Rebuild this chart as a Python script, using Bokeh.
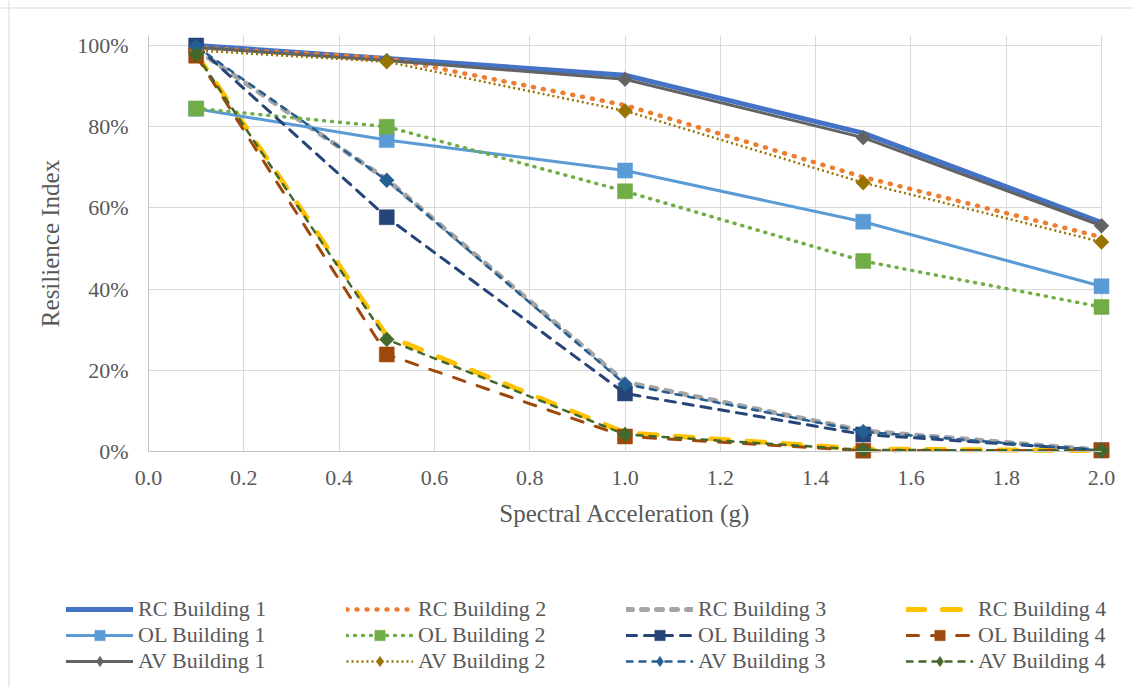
from bokeh.plotting import figure
from bokeh.models import (Legend, LegendItem, FixedTicker, NumeralTickFormatter,
                          Range1d, Span)
from bokeh.embed import file_html
from bokeh.resources import INLINE
import math

# ---------------- data ----------------
accel = [0.1, 0.5, 1.0, 1.5, 2.0]

rc_building_1 = [1.000, 0.968, 0.927, 0.784, 0.564]
rc_building_2 = [0.995, 0.969, 0.853, 0.676, 0.528]
rc_building_3 = [0.990, 0.670, 0.171, 0.051, 0.003]
rc_building_4 = [0.980, 0.285, 0.046, 0.006, 0.002]
ol_building_1 = [0.844, 0.767, 0.692, 0.566, 0.407]
ol_building_2 = [0.845, 0.800, 0.641, 0.469, 0.356]
ol_building_3 = [1.000, 0.577, 0.143, 0.042, 0.003]
ol_building_4 = [0.975, 0.239, 0.037, 0.002, 0.003]
av_building_1 = [0.995, 0.963, 0.917, 0.773, 0.556]
av_building_2 = [0.988, 0.960, 0.839, 0.662, 0.516]
av_building_3 = [0.998, 0.668, 0.166, 0.049, 0.002]
av_building_4 = [0.978, 0.276, 0.042, 0.004, 0.002]

series_names = ["RC Building 1", "RC Building 2", "RC Building 3", "RC Building 4",
                "OL Building 1", "OL Building 2", "OL Building 3", "OL Building 4",
                "AV Building 1", "AV Building 2", "AV Building 3", "AV Building 4"]
series_values = [rc_building_1, rc_building_2, rc_building_3, rc_building_4,
                 ol_building_1, ol_building_2, ol_building_3, ol_building_4,
                 av_building_1, av_building_2, av_building_3, av_building_4]

x_ticks = [round(i * 0.2, 1) for i in range(11)]
y_ticks = [round(i * 0.2, 1) for i in range(6)]
x_min, x_max = 0.0, 2.0
y_min, y_max = 0.0, 1.025

# ---------------- styles ----------------
# (color, width, dash, cap, marker)
styles = [
    ("#4472C4", 5.0, "solid", "round", None),
    ("#ED7D31", 4.5, "1 9", "round", None),
    ("#A5A5A5", 5.0, "6 9", "round", None),
    ("#FFC000", 5.0, "18 18", "round", None),
    ("#5B9BD5", 3.0, "solid", "round", "square"),
    ("#70AD47", 3.5, "1 7", "round", "square"),
    ("#264478", 3.0, "10 8", "round", "square"),
    ("#9E480E", 3.0, "12 13", "round", "square"),
    ("#636363", 3.0, "solid", "round", "diamond"),
    ("#997300", 2.5, "2 3", "butt", "diamond"),
    ("#255E91", 2.5, "6 7", "round", "diamond"),
    ("#43682B", 2.5, "6 7", "round", "diamond"),
]

TEXT = "#595959"
FONT = "Liberation Serif"

# layout of the page (pixels): plot area x 148..1101, y(0%)=451, y(100%)=45
W, H = 1133, 687
PX_L, PX_R, PY_0, PY_100 = 148, 1101, 451, 45
sx = (PX_R - PX_L) / (x_max - x_min)
sy = (PY_0 - PY_100) / 1.0
xr = Range1d(x_min - PX_L / sx, x_max + (W - PX_R) / sx)
yr = Range1d(y_min - (H - PY_0) / sy, 1.0 + PY_100 / sy)

p = figure(width=W, height=H, output_backend="svg", toolbar_location=None,
           x_range=xr, y_range=yr, min_border=0)
p.outline_line_color = None
p.background_fill_color = "white"
p.border_fill_color = "white"

# outer chart border (left and top edges of the chart box)
p.add_layout(Span(location=xr.start + 8.5 / sx, dimension="height",
                  line_color="#D9D9D9", line_width=1))
p.add_layout(Span(location=yr.end - 7.5 / sy, dimension="width",
                  line_color="#D9D9D9", line_width=1))

# grid
p.xgrid.ticker = FixedTicker(ticks=x_ticks)
p.ygrid.ticker = FixedTicker(ticks=y_ticks)
p.xgrid.cross_bounds = (y_min, y_max)
p.ygrid.cross_bounds = (x_min, x_max)
for g in (p.xgrid, p.ygrid):
    g.grid_line_color = "#D9D9D9"
    g.grid_line_width = 1

# axes, pinned at the data origin
p.xaxis.fixed_location = 0
p.yaxis.fixed_location = 0
p.xaxis.bounds = (x_min, x_max)
p.yaxis.bounds = (y_min, y_max)
p.xaxis.ticker = FixedTicker(ticks=x_ticks)
p.yaxis.ticker = FixedTicker(ticks=y_ticks)
p.xaxis.formatter = NumeralTickFormatter(format="0.0")
p.yaxis.formatter = NumeralTickFormatter(format="0%")
for ax in (p.xaxis, p.yaxis):
    ax.axis_line_color = "#C4C4C4"
    ax.axis_line_width = 1
    ax.major_tick_line_color = None
    ax.minor_tick_line_color = None
    ax.major_tick_out = 0
    ax.major_tick_in = 0
    ax.major_label_text_font = FONT
    ax.major_label_text_font_size = "22px"
    ax.major_label_text_color = TEXT
    ax.axis_label_text_font = FONT
    ax.axis_label_text_font_size = "25px"
    ax.axis_label_text_font_style = "normal"
    ax.axis_label_text_color = TEXT
p.xaxis.axis_label = "Spectral Acceleration (g)"
p.yaxis.axis_label = "Resilience Index"
p.xaxis.major_label_standoff = 19
p.yaxis.major_label_standoff = 20
p.xaxis.axis_label_standoff = 12
p.yaxis.axis_label_standoff = 10

items = []
for name, vals, (color, width, dash, cap, marker) in zip(series_names, series_values, styles):
    rs = []
    ln = p.line(accel, vals, line_color=color, line_width=width, line_dash=dash,
                line_cap=cap, line_join="round")
    rs.append(ln)
    if marker == "square":
        sc = p.scatter(accel, vals, marker="square", size=15, fill_color=color,
                       line_color=color, line_width=0.5)
        rs.append(sc)
    elif marker == "diamond":
        # diamond glyph used for the legend key; the rotated square covers it in the plot
        dm = p.scatter(accel, vals, marker="diamond", size=13, fill_color=color,
                       line_color=color, line_width=0.5)
        rs.append(dm)
        p.scatter(accel, vals, marker="square", size=10.5, angle=math.pi / 4,
                  fill_color=color, line_color=color, line_width=0.5)
    items.append(LegendItem(label=name, renderers=rs))

# legend is filled column by column: reorder so rows read RC / OL / AV
order = [0, 4, 8, 1, 5, 9, 2, 6, 10, 3, 7, 11]
legend_items = [items[i] for i in order]

legend = Legend(items=legend_items, location=(66, 13), orientation="vertical", ncols=4,
                glyph_width=67, glyph_height=26, label_height=26, label_width=208,
                label_standoff=5, spacing=0, padding=0, margin=0,
                border_line_color=None, background_fill_alpha=0,
                label_text_font=FONT, label_text_font_size="22px",
                label_text_color=TEXT)
p.add_layout(legend, "center")

open("out.html", "w").write(file_html(p, INLINE))
